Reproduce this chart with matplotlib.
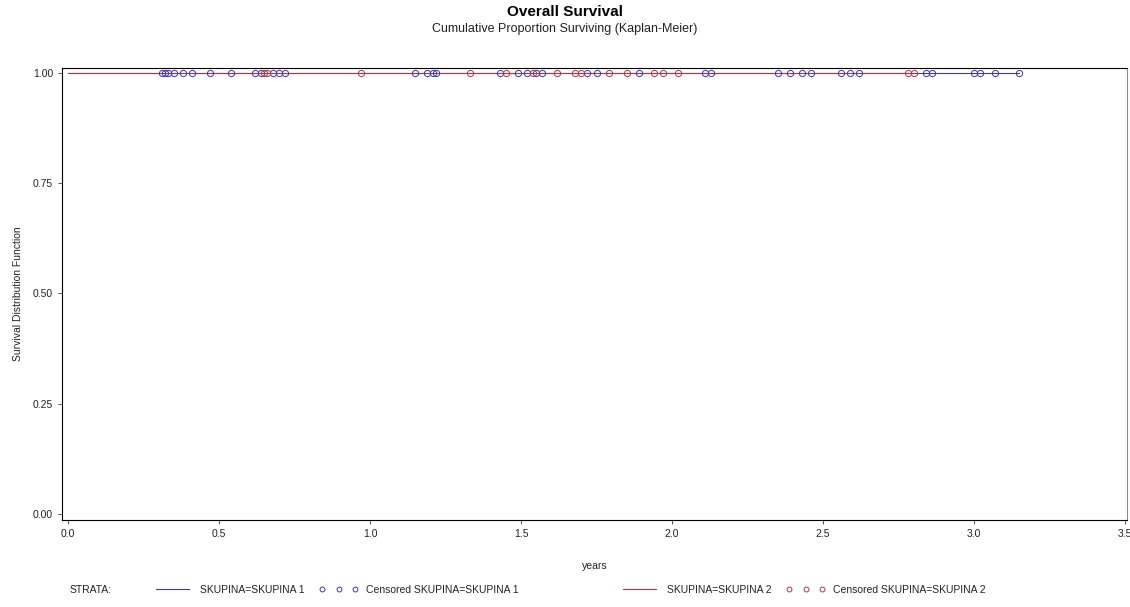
import numpy as np
import matplotlib.pyplot as plt
from matplotlib.lines import Line2D

plt.rcParams['font.family'] = ['Liberation Sans', 'DejaVu Sans']

# censored times (years), no events -> survival stays at 1.0
cens_1 = [0.31, 0.32, 0.33, 0.35, 0.38, 0.41, 0.47, 0.54, 0.62, 0.64, 0.68, 0.70, 0.72,
          1.15, 1.19, 1.21, 1.22, 1.43, 1.49, 1.52, 1.55, 1.57, 1.72, 1.75, 1.89,
          2.11, 2.13, 2.35, 2.39, 2.43, 2.46, 2.56, 2.59, 2.62, 2.84, 2.86,
          3.00, 3.02, 3.07, 3.15]
cens_2 = [0.65, 0.66, 0.97, 1.33, 1.45, 1.54, 1.62, 1.68, 1.70, 1.79, 1.85, 1.94,
          1.97, 2.02, 2.78, 2.80]
surv_1 = [1.0] * len(cens_1)
surv_2 = [1.0] * len(cens_2)

labels = ['SKUPINA=SKUPINA 1', 'Censored SKUPINA=SKUPINA 1',
          'SKUPINA=SKUPINA 2', 'Censored SKUPINA=SKUPINA 2']
xticks = [0.0, 0.5, 1.0, 1.5, 2.0, 2.5, 3.0, 3.5]
yticks = [0.00, 0.25, 0.50, 0.75, 1.00]

c1 = '#3a3aa8'
c2 = '#a83a4a'

fig = plt.figure(figsize=(11.3, 6.07), dpi=100)
ax = fig.add_axes([0.0549, 0.1433, 0.9425, 0.7446])

ax.step([0] + cens_1, [1.0] + surv_1, where='post', color=c1, lw=0.8)
ax.step([0] + cens_2, [1.0] + surv_2, where='post', color=c2, lw=0.8)
ax.plot(cens_1, surv_1, ls='none', marker='o', ms=4.5, mfc='none', mec=c1, mew=0.7)
ax.plot(cens_2, surv_2, ls='none', marker='o', ms=4.5, mfc='none', mec=c2, mew=0.7)

ax.set_xlim(-0.02, 3.507)
ax.set_ylim(-0.0136, 1.011)
ax.set_xticks(xticks)
ax.set_xticklabels(['%.1f' % t for t in xticks])
ax.set_yticks(yticks)
ax.set_yticklabels(['%.2f' % t for t in yticks])
ax.tick_params(labelsize=7.5, length=3, width=0.7, color='#555555', labelcolor='#222222')
for s in ax.spines.values():
    s.set_linewidth(0.8)
ax.spines['right'].set_color('#888888')

ax.set_xlabel('years', fontsize=7.5, color='#222222', va='center')
ax.set_ylabel('Survival Distribution Function', fontsize=7.5, color='#222222', va='center')
ax.xaxis.set_label_coords(0.5, -0.102)
ax.yaxis.set_label_coords(-0.0413, 0.5)

fig.text(0.5, 0.980, 'Overall Survival', ha='center', va='center',
         fontsize=11, fontweight='bold')
fig.text(0.5, 0.953, 'Cumulative Proportion Surviving (Kaplan-Meier)', ha='center',
         va='center', fontsize=9, color='#222222')

handles = [Line2D([], [], color=c1, lw=0.8),
           Line2D([], [], ls='none', marker='o', ms=3.5, mfc='none', mec=c1, mew=0.7),
           Line2D([], [], color=c2, lw=0.8),
           Line2D([], [], ls='none', marker='o', ms=3.5, mfc='none', mec=c2, mew=0.7)]
fig.text(0.062, 0.028, 'STRATA:', fontsize=7.5, va='center', color='#222222')
for h, lab, x0 in zip(handles, labels, [0.1354, 0.2823, 0.5487, 0.6956]):
    leg = fig.legend([h], [lab], loc='center left', bbox_to_anchor=(x0, 0.028),
                     frameon=False, fontsize=7.5, numpoints=3, handlelength=3.75,
                     handletextpad=0.8, borderpad=0, borderaxespad=0)
    for t in leg.get_texts():
        t.set_color('#222222')

fig.savefig('out.png', dpi=100)
